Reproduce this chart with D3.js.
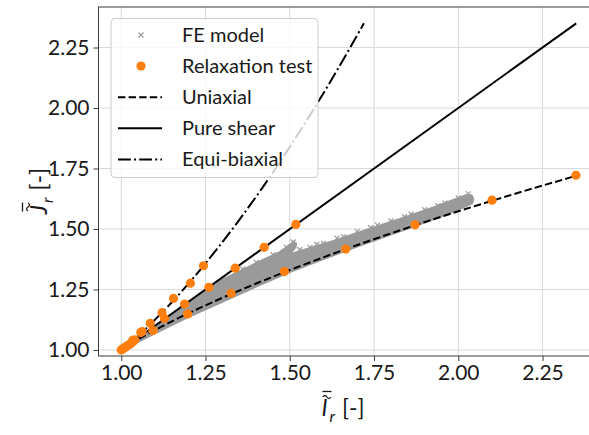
<!DOCTYPE html>
<html><head><meta charset="utf-8">
<script src="https://cdn.jsdelivr.net/npm/d3@7"></script>
<style>html,body{margin:0;padding:0;background:#fff;} svg{display:block;}</style>
</head><body><svg id="c" width="589" height="435"></svg>
<script>
// ---------- data ----------
const xTicks = [1.00, 1.25, 1.50, 1.75, 2.00, 2.25];
const yTicks = [1.00, 1.25, 1.50, 1.75, 2.00, 2.25];
const legendLabels = ["FE model", "Relaxation test", "Uniaxial", "Pure shear", "Equi-biaxial"];

const uniaxialI = [1.000, 1.0145, 1.054, 1.1151, 1.194, 1.2905, 1.402, 1.5274, 1.667, 1.8189, 1.984, 2.1609, 2.350];
const uniaxialJ = [1.000, 1.0134, 1.047, 1.0930, 1.148, 1.2096, 1.2755, 1.3448, 1.417, 1.4905, 1.566, 1.6424, 1.720];

const pureShearI = [1.000, 2.350];
const pureShearJ = [1.000, 2.350];

const biaxialI = [1.000, 1.0134, 1.047, 1.0930, 1.148, 1.2096, 1.2755, 1.3448, 1.417, 1.4905, 1.566, 1.6424, 1.720];
const biaxialJ = [1.000, 1.0145, 1.054, 1.1151, 1.194, 1.2905, 1.402, 1.5274, 1.667, 1.8189, 1.984, 2.1609, 2.350];

const relaxI = [1.000, 1.005, 1.010, 1.015, 1.020, 1.026, 1.031, 1.036, 1.040, 1.034,
                1.058, 1.062, 1.086, 1.094, 1.121, 1.128, 1.155, 1.188, 1.197, 1.205,
                1.244, 1.260, 1.326, 1.338, 1.424, 1.484, 1.518, 1.666, 1.872, 2.100, 2.349];
const relaxJ = [1.000, 1.005, 1.009, 1.014, 1.019, 1.024, 1.030, 1.036, 1.042, 1.040,
                1.072, 1.076, 1.110, 1.080, 1.154, 1.130, 1.213, 1.190, 1.149, 1.276,
                1.348, 1.259, 1.234, 1.338, 1.424, 1.324, 1.519, 1.417, 1.517, 1.619, 1.722];

// outline of the dense FE-model scatter cloud
const feEnvelopeI = [1.000, 1.050, 1.100, 1.200, 1.300, 1.400, 1.500, 1.600, 1.700, 1.800, 1.900, 1.970, 2.030,
                     2.042, 2.045, 2.040,
                     2.025, 1.926, 1.827, 1.729, 1.630, 1.531, 1.480, 1.440, 1.407,
                     1.462, 1.501, 1.518, 1.520,
                     1.512, 1.470, 1.422, 1.343, 1.290, 1.279, 1.200, 1.100, 1.050, 1.000];
const feEnvelopeJ = [0.992, 1.033, 1.068, 1.136, 1.198, 1.261, 1.321, 1.375, 1.426, 1.476, 1.526, 1.562, 1.598,
                     1.606, 1.625, 1.640,
                     1.642, 1.590, 1.542, 1.498, 1.452, 1.410, 1.385, 1.355, 1.322,
                     1.350, 1.395, 1.425, 1.440,
                     1.448, 1.405, 1.374, 1.320, 1.285, 1.276, 1.196, 1.097, 1.048, 1.000];
// individual FE markers sticking out of the cloud edge
const feMarkI = [1.560, 1.600, 1.660, 1.700, 1.760, 1.800, 1.860, 1.900, 1.960, 2.000, 2.030,
                 1.360, 1.400, 1.450, 1.490, 1.510, 1.530, 1.580, 1.640, 1.740, 1.840, 1.940];
const feMarkJ = [1.424, 1.440, 1.468, 1.489, 1.516, 1.533, 1.561, 1.580, 1.607, 1.628, 1.645,
                 1.334, 1.362, 1.394, 1.425, 1.446, 1.414, 1.436, 1.462, 1.505, 1.551, 1.596];

// ---------- drawing ----------
const F = "Lato, 'Open Sans', sans-serif";
const svg = d3.select("#c");
const L = 98.5, R = 599, T = 7, B = 356;
const x = d3.scaleLinear().domain([0.9325, 2.4175]).range([L, R]);
const y = d3.scaleLinear().domain([0.975, 2.4175]).range([B, T]);

svg.append("defs").append("clipPath").attr("id", "clip")
  .append("rect").attr("x", L).attr("y", T).attr("width", R - L).attr("height", B - T);

// grid
const grid = svg.append("g");
grid.selectAll("line.gx").data(xTicks).join("line")
  .attr("x1", d => x(d)).attr("x2", d => x(d)).attr("y1", T).attr("y2", B)
  .attr("stroke", "#d9d9d9").attr("stroke-width", 1);
grid.selectAll("line.gy").data(yTicks).join("line")
  .attr("x1", L).attr("x2", R).attr("y1", d => y(d)).attr("y2", d => y(d))
  .attr("stroke", "#d9d9d9").attr("stroke-width", 1);

const plot = svg.append("g").attr("clip-path", "url(#clip)");
const gray = "#9a9a9a";

// FE cloud
const env = feEnvelopeI.map((v, i) => [v, feEnvelopeJ[i]]);
plot.append("path")
  .attr("d", d3.line().x(d => x(d[0])).y(d => y(d[1])).curve(d3.curveLinearClosed)(env))
  .attr("fill", gray).attr("stroke", gray).attr("stroke-width", 1.5).attr("stroke-linejoin", "round");
const xm = (sel, s) => sel.attr("d", `M${-s},${-s}L${s},${s}M${-s},${s}L${s},${-s}`);
plot.selectAll("path.fem").data(feMarkI.map((v, i) => [v, feMarkJ[i]])).join("path")
  .attr("class", "fem")
  .attr("transform", d => `translate(${x(d[0])},${y(d[1])})`)
  .call(xm, 2.5).attr("stroke", gray).attr("stroke-width", 1.2);

// model lines
const ln = d3.line().x(d => x(d[0])).y(d => y(d[1])).curve(d3.curveMonotoneX);
const lnB = d3.line().x(d => x(d[0])).y(d => y(d[1])).curve(d3.curveCatmullRom);
plot.append("path").attr("d", ln(uniaxialI.map((v, i) => [v, uniaxialJ[i]])))
  .attr("fill", "none").attr("stroke", "#000").attr("stroke-width", 2).attr("stroke-dasharray", "7.4,3.2");
plot.append("path").attr("d", ln(pureShearI.map((v, i) => [v, pureShearJ[i]])))
  .attr("fill", "none").attr("stroke", "#000").attr("stroke-width", 2);
plot.append("path").attr("d", lnB(biaxialI.map((v, i) => [v, biaxialJ[i]])))
  .attr("fill", "none").attr("stroke", "#000").attr("stroke-width", 2).attr("stroke-dasharray", "12.8,3.2,2,3.2");

// relaxation test points
const orange = "#ff7f0e";
plot.selectAll("circle.rt").data(relaxI.map((v, i) => [v, relaxJ[i]])).join("circle")
  .attr("class", "rt").attr("cx", d => x(d[0])).attr("cy", d => y(d[1])).attr("r", 4.6).attr("fill", orange);

// frame
svg.append("rect").attr("x", L).attr("y", T).attr("width", R - L).attr("height", B - T)
  .attr("fill", "none").attr("stroke", "#3a3a3a").attr("stroke-width", 1);

// axes
const xa = svg.append("g").attr("transform", `translate(0,${B})`)
  .call(d3.axisBottom(x).tickValues(xTicks).tickFormat(d3.format(".2f")).tickSizeOuter(0).tickSize(5).tickPadding(4));
const ya = svg.append("g").attr("transform", `translate(${L},0)`)
  .call(d3.axisLeft(y).tickValues(yTicks).tickFormat(d3.format(".2f")).tickSizeOuter(0).tickSize(5).tickPadding(4));
[xa, ya].forEach(a => {
  a.select(".domain").remove();
  a.selectAll(".tick line").attr("stroke", "#3a3a3a");
  a.selectAll(".tick text").style("font-family", F).style("font-size", "21px").attr("fill", "#1a1a1a");
});

// accented axis labels
function axisLabel(g, letter) {
  const t = g.append("text").attr("x", 0).attr("y", 0).attr("text-anchor", "middle")
    .style("font-family", F).style("font-size", "23px").attr("fill", "#1a1a1a");
  t.append("tspan").style("font-style", "italic").text(letter);
  t.append("tspan").style("font-style", "italic").style("font-size", "16px").attr("dy", 6).attr("dx", 2).text("r");
  t.append("tspan").attr("dy", -6).attr("dx", 7).text("[-]");
  const e = t.node().getExtentOfChar(0);
  const cx = e.x + e.width / 2 + 2.5;
  const yT = -20, yB = -24.5;
  g.append("path").attr("d", `M${cx - 4},${yT + 1}q2,-3 4,0t4,0`)
    .attr("fill", "none").attr("stroke", "#1a1a1a").attr("stroke-width", 1.3);
  g.append("line").attr("x1", cx - 4.5).attr("x2", cx + 4.5).attr("y1", yB).attr("y2", yB)
    .attr("stroke", "#1a1a1a").attr("stroke-width", 1.3);
}
axisLabel(svg.append("g").attr("transform", "translate(343,416)"), "I");
axisLabel(svg.append("g").attr("transform", "translate(47,191) rotate(-90)"), "J");

// legend
const lg = svg.append("g");
lg.append("rect").attr("x", 111).attr("y", 18.5).attr("width", 207).attr("height", 159).attr("rx", 4)
  .attr("fill", "#fff").attr("fill-opacity", 0.8).attr("stroke", "#cccccc").attr("stroke-width", 1);
const rowY = i => 35 + i * 31.1;
legendLabels.forEach((lab, i) => {
  lg.append("text").attr("x", 182).attr("y", rowY(i) + 7).text(lab)
    .style("font-family", F).style("font-size", "20px").attr("fill", "#1a1a1a");
});
lg.append("path").attr("transform", `translate(141,${rowY(0)})`).call(xm, 2.5)
  .attr("stroke", gray).attr("stroke-width", 1.2);
lg.append("circle").attr("cx", 141).attr("cy", rowY(1)).attr("r", 4.6).attr("fill", orange);
lg.append("line").attr("x1", 118).attr("x2", 162).attr("y1", rowY(2)).attr("y2", rowY(2))
  .attr("stroke", "#000").attr("stroke-width", 2).attr("stroke-dasharray", "7.4,3.2");
lg.append("line").attr("x1", 118).attr("x2", 162).attr("y1", rowY(3)).attr("y2", rowY(3))
  .attr("stroke", "#000").attr("stroke-width", 2);
lg.append("line").attr("x1", 118).attr("x2", 162).attr("y1", rowY(4)).attr("y2", rowY(4))
  .attr("stroke", "#000").attr("stroke-width", 2).attr("stroke-dasharray", "12.8,3.2,2,3.2");
</script></body></html>
